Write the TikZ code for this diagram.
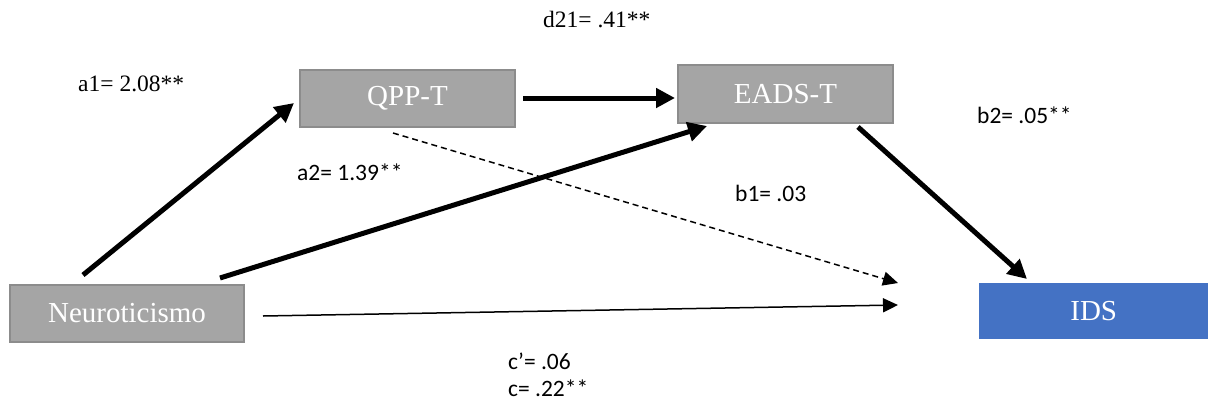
\documentclass[tikz,border=0pt]{standalone}
\usepackage{fontspec}
\setmainfont{Liberation Serif}
\newfontfamily\calib{Carlito}
\usetikzlibrary{arrows.meta}
\definecolor{boxgray}{HTML}{A5A5A5}
\definecolor{boxedge}{HTML}{8C8C8C}
\definecolor{idsblue}{HTML}{4472C4}
\tikzset{
  graybox/.style={rectangle, fill=boxgray, draw=boxedge, line width=2pt, anchor=north west, inner sep=0pt, text=white, font=\fontsize{29}{32}\selectfont},
  bluebox/.style={rectangle, fill=idsblue, anchor=north west, inner sep=0pt, text=white, font=\fontsize{29}{32}\selectfont},
  thickarrow/.style={line width=5pt, -{Triangle[length=19pt, width=19pt]}},
  thinarrow/.style={line width=1.5pt, -{Triangle[length=15pt, width=14pt]}},
  serlab/.style={font=\fontsize{23.5}{26}\selectfont, inner sep=0pt, anchor=west},
  sanlab/.style={font=\calib\fontsize{23.5}{26}\selectfont, inner sep=0pt, anchor=west},
}
\begin{document}
\begin{tikzpicture}[x=1pt, y=-1pt]
\useasboundingbox (0,0) rectangle (1208,405);
% boxes
\node[graybox, minimum width=234pt, minimum height=57pt] (neu) at (9,284) {Neuroticismo};
\node[graybox, minimum width=215pt, minimum height=57pt] (qpp) at (299,69) {QPP-T};
\node[graybox, minimum width=215pt, minimum height=58pt] (eads) at (677,64) {EADS-T};
\node[bluebox, minimum width=229pt, minimum height=56pt] (ids) at (979,283) {IDS};
% connector end points
\coordinate (a1s) at (83,275);
\coordinate (a1e) at (294,103);
\coordinate (a2s) at (220,278);
\coordinate (a2e) at (707,126);
\coordinate (ds) at (523,98);
\coordinate (de) at (675,98);
\coordinate (b2s) at (858,127);
\coordinate (b2e) at (1027,279);
\coordinate (b1s) at (393,133);
\coordinate (b1e) at (898,283);
\coordinate (cs) at (263,316);
\coordinate (ce) at (898,305);
% connectors
\draw[thickarrow] (a1s) -- (a1e);
\draw[thickarrow] (a2s) -- (a2e);
\draw[thickarrow] (ds) -- (de);
\draw[thickarrow] (b2s) -- (b2e);
\draw[thinarrow, dash pattern=on 6pt off 4pt] (b1s) -- (b1e);
\draw[thinarrow] (cs) -- (ce);
% labels
\node[serlab] (la1) at (78,84) {a1= 2.08**};
\node[serlab] (ld21) at (543,20) {d21= .41**};
\node[sanlab] (la2) at (297,172) {a2= 1.39**};
\node[sanlab] (lb1) at (735,193) {b1= .03};
\node[sanlab] (lb2) at (977,115) {b2= .05**};
\node[sanlab] (lc1) at (508,361) {c’= .06};
\node[sanlab] (lc2) at (508,388) {c= .22**};
\end{tikzpicture}
\end{document}
